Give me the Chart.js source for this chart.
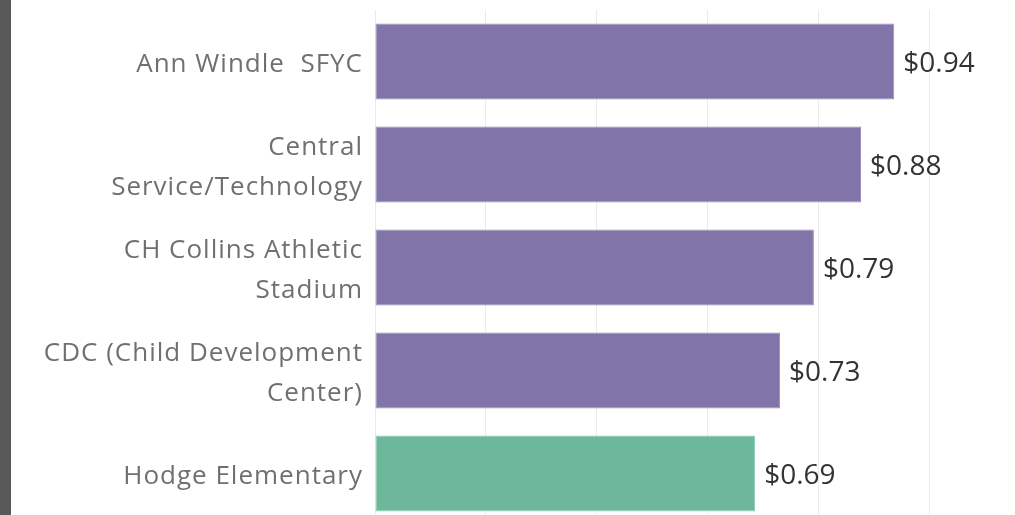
<!DOCTYPE html>
<html>
<head>
<meta charset="utf-8">
<script src="https://cdn.jsdelivr.net/npm/chart.js@4.4.1/dist/chart.umd.min.js"></script>
<style>
  html, body { margin: 0; padding: 0; background: #fff; overflow: hidden; }
  #page { position: relative; width: 1015px; height: 515px; overflow: hidden; background: #fff; }
  #edge { position: absolute; left: 0; top: 0; width: 11px; height: 515px; background: #595959; }
  #wrap { position: absolute; left: 11px; top: 0; }
</style>
</head>
<body>
<div id="page">
  <div id="edge"></div>
  <div id="wrap"><canvas id="bars" width="1029" height="525"></canvas></div>
</div>
<script>
// sites, top to bottom
const sites = [
  ['Ann Windle  SFYC'],
  ['Central', 'Service/Technology'],
  ['CH Collins Athletic', 'Stadium'],
  ['CDC (Child Development', 'Center)'],
  ['Hodge Elementary']
];
const costs = [0.937, 0.877, 0.792, 0.731, 0.686];
const highlighted = [false, false, false, false, true];
const xTicks = [0, 0.2, 0.4, 0.6, 0.8, 1.0, 1.2];

const purple = 'rgb(128,116,168)';
const green = 'rgb(109,184,154)';

// value labels, then nudge the y tick labels (drawn after, z=1):
// tableau's font sits a bit lower and runs a bit wider than Open Sans
const valueLabels = {
  id: 'valueLabels',
  afterDatasetsDraw(chart) {
    const { ctx } = chart;
    const meta = chart.getDatasetMeta(0);
    ctx.save();
    ctx.font = '28px "Open Sans"';
    ctx.fillStyle = '#333333';
    ctx.textAlign = 'left';
    ctx.textBaseline = 'middle';
    meta.data.forEach((bar, i) => {
      ctx.fillText('$' + costs[i].toFixed(2), bar.x + 9, bar.y + 3);
    });
    ctx.restore();

    ctx.save();
    ctx.translate(0, 3);
    ctx.letterSpacing = '1px';
  },
  afterDraw(chart) {
    chart.ctx.restore();
  }
};

const noPad = (scale) => {
  scale.paddingTop = 0;
  scale.paddingBottom = 0;
  scale.paddingLeft = 0;
  scale.paddingRight = 0;
};

const ctx = document.getElementById('bars').getContext('2d');
const chart = new Chart(ctx, {
  type: 'bar',
  data: {
    labels: sites,
    datasets: [{
      data: costs,
      backgroundColor: highlighted.map(h => h ? green : purple),
      borderColor: highlighted.map(h => h ? 'rgb(140,204,178)' : 'rgb(152,142,188)'),
      borderWidth: 1,
      borderSkipped: false,
      barPercentage: 0.738,
      categoryPercentage: 1
    }]
  },
  options: {
    indexAxis: 'y',
    responsive: false,
    animation: false,
    layout: { padding: { top: 10, right: 0, bottom: 0, left: 0 } },
    plugins: {
      legend: { display: false },
      tooltip: { enabled: false }
    },
    scales: {
      x: {
        min: 0,
        max: 1.2,
        afterBuildTicks: (scale) => { scale.ticks = xTicks.map(v => ({ value: v })); },
        ticks: { display: false },
        border: { display: false },
        grid: { color: '#ebebeb', lineWidth: 1, drawTicks: false },
        afterFit: (scale) => { scale.height = 0; noPad(scale); }
      },
      y: {
        border: { display: false },
        grid: { display: false, drawTicks: false },
        ticks: {
          z: 1,
          padding: 12,
          color: '#707070',
          font: { family: '"Open Sans"', size: 26, lineHeight: 1.54 }
        },
        afterFit: (scale) => { scale.width = 364; noPad(scale); }
      }
    }
  },
  plugins: [valueLabels]
});
</script>
</body>
</html>
